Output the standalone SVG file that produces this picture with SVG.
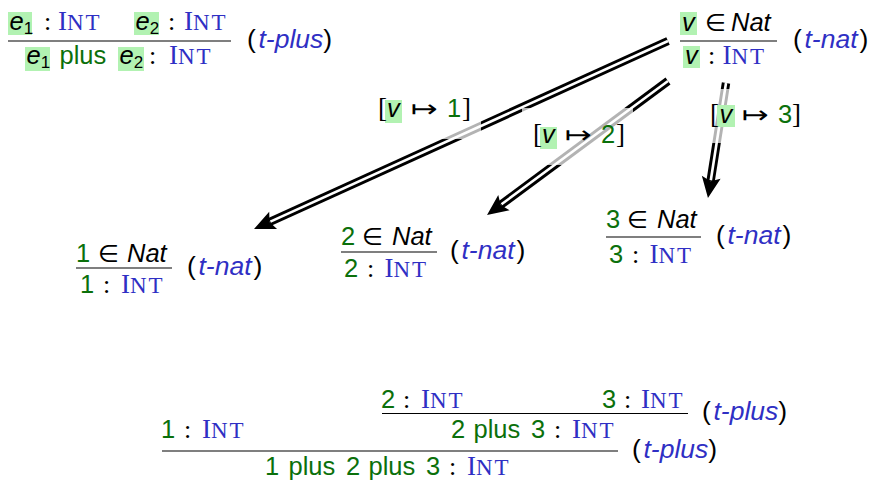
<svg xmlns="http://www.w3.org/2000/svg" width="875" height="481" viewBox="0 0 875 481">
<style>
text { font-family: "Liberation Sans", Arial, sans-serif; font-size: 25.5px; fill: #000; }
.it { font-style: italic; }
.gr { fill: #0b700b; }
.bl { fill: #2f2fc4; }
.lab { font-size: 26.5px; }
.I { font-family: "Liberation Serif", "Times New Roman", serif; font-size: 27px; }
.nt { font-family: "Liberation Serif", "Times New Roman", serif; font-size: 23px; letter-spacing: 2px; }
.col { font-family: "Liberation Serif", "Times New Roman", serif; font-size: 26px; }
.br { font-family: "Liberation Serif", "Times New Roman", serif; font-size: 27px; }
.sub { font-size: 17px; }
.sym { font-family: "DejaVu Sans", sans-serif; font-size: 24px; }
.map { font-family: "DejaVu Sans", sans-serif; font-size: 24px; }
.hl { fill: #b2f2b2; }
.rule { stroke: #000; stroke-width: 1.1; }
.dbl-out { fill: none; stroke: #000; stroke-width: 8.4; marker-end: url(#head); }
.dbl-in { fill: none; stroke: #fff; stroke-width: 2.6; }
.lblbg { fill: #fff; fill-opacity: 0.7; }
</style>
<defs>
<marker id="head" markerUnits="userSpaceOnUse" viewBox="0 -10 22 20" markerWidth="22" markerHeight="20" refX="4" refY="0" orient="auto" overflow="visible">
<path d="M0,-9.5 L21,0 L0,9.5 L4,0 z" fill="#000"/>
</marker>
</defs>

<g id="connectors">
<path class="dbl-out" d="M668,41 L269.5,222"/>
<path class="dbl-in" d="M668,41 L270.4,221.6"/>
<path class="dbl-out" d="M668,81 L500.7,204.9"/>
<path class="dbl-in" d="M668,81 L501.5,204.3"/>
<path class="dbl-out" d="M726,83 L710.6,181.2"/>
<path class="dbl-in" d="M726,83 L710.8,180.2"/>
<g id="label-v1">
<rect class="lblbg" x="367" y="82" width="114" height="57"/>
<rect class="hl" x="385" y="100" width="17" height="23"/>
<text y="117"><tspan class="br" x="378">[</tspan><tspan class="it" x="387">v</tspan><tspan class="gr" x="447">1</tspan><tspan class="br" x="462">]</tspan></text>
<text class="map" x="411" y="117" textLength="27" lengthAdjust="spacingAndGlyphs">↦</text>
</g>
<g id="label-v2">
<rect class="lblbg" x="522" y="108" width="111" height="57"/>
<rect class="hl" x="540" y="127" width="17" height="22"/>
<text y="143"><tspan class="br" x="533">[</tspan><tspan class="it" x="542">v</tspan><tspan class="gr" x="601">2</tspan><tspan class="br" x="616">]</tspan></text>
<text class="map" x="565" y="143" textLength="27" lengthAdjust="spacingAndGlyphs">↦</text>
</g>
<g id="label-v3">
<rect class="lblbg" x="699" y="89" width="111" height="54"/>
<rect class="hl" x="717" y="105" width="18" height="22"/>
<text y="123"><tspan class="br" x="710">[</tspan><tspan class="it" x="719.5">v</tspan><tspan class="gr" x="778">3</tspan><tspan class="br" x="792">]</tspan></text>
<text class="map" x="742" y="123" textLength="27" lengthAdjust="spacingAndGlyphs">↦</text>
</g>
</g>

<g id="rule-t-plus">
<rect class="hl" x="8" y="12" width="24" height="23"/>
<rect class="hl" x="134" y="12" width="25" height="23"/>
<rect class="hl" x="25" y="47" width="25" height="24"/>
<rect class="hl" x="118" y="47" width="26" height="24"/>
<text y="30"><tspan class="it" x="9.5">e</tspan><tspan class="sub" y="34">1</tspan><tspan class="col" x="44" y="30">:</tspan><tspan class="bl"><tspan class="I" x="58">I</tspan><tspan class="nt">NT</tspan></tspan><tspan class="it" x="135.5">e</tspan><tspan class="sub" y="34">2</tspan><tspan class="col" x="168" y="30">:</tspan><tspan class="bl"><tspan class="I" x="184">I</tspan><tspan class="nt">NT</tspan></tspan></text>
<line class="rule" x1="8" y1="41" x2="231" y2="41"/>
<text y="64"><tspan class="it" x="26.5">e</tspan><tspan class="sub" y="68">1</tspan><tspan class="gr" x="59.5" y="64">plus</tspan><tspan class="it" x="119.5">e</tspan><tspan class="sub" y="68">2</tspan><tspan class="col" x="149" y="64">:</tspan><tspan class="bl"><tspan class="I" x="169">I</tspan><tspan class="nt">NT</tspan></tspan></text>
<text class="lab" y="48"><tspan x="247">(</tspan><tspan class="bl it" x="258.5">t-plus</tspan><tspan>)</tspan></text>
</g>

<g id="rule-t-nat">
<rect class="hl" x="680" y="12" width="17" height="23"/>
<rect class="hl" x="683" y="46" width="17" height="22"/>
<text y="31"><tspan class="it" x="682">v</tspan><tspan class="sym" x="705">∈</tspan><tspan class="it" x="731">Nat</tspan></text>
<line class="rule" x1="680" y1="41" x2="777" y2="41"/>
<text y="64"><tspan class="it" x="685">v</tspan><tspan class="col" x="708">:</tspan><tspan class="bl"><tspan class="I" x="722.5">I</tspan><tspan class="nt">NT</tspan></tspan></text>
<text class="lab" y="48"><tspan x="793">(</tspan><tspan class="bl it" x="804.5">t-nat</tspan><tspan dx="2">)</tspan></text>
</g>

<g id="nat-1">
<text y="262"><tspan class="gr" x="76">1</tspan><tspan class="sym" x="98">∈</tspan><tspan class="it" x="127">Nat</tspan></text>
<line class="rule" x1="76" y1="268" x2="172" y2="268"/>
<text y="293"><tspan class="gr" x="80">1</tspan><tspan class="col" x="103">:</tspan><tspan class="bl"><tspan class="I" x="121">I</tspan><tspan class="nt">NT</tspan></tspan></text>
<text class="lab" y="275"><tspan x="187">(</tspan><tspan class="bl it" x="198.5">t-nat</tspan><tspan dx="2">)</tspan></text>
</g>

<g id="nat-2">
<text y="245"><tspan class="gr" x="341">2</tspan><tspan class="sym" x="362">∈</tspan><tspan class="it" x="392">Nat</tspan></text>
<line class="rule" x1="341" y1="252" x2="437" y2="252"/>
<text y="277"><tspan class="gr" x="344">2</tspan><tspan class="col" x="367">:</tspan><tspan class="bl"><tspan class="I" x="384.5">I</tspan><tspan class="nt">NT</tspan></tspan></text>
<text class="lab" y="259"><tspan x="450">(</tspan><tspan class="bl it" x="461.5">t-nat</tspan><tspan dx="2">)</tspan></text>
</g>

<g id="nat-3">
<text y="228"><tspan class="gr" x="606">3</tspan><tspan class="sym" x="627">∈</tspan><tspan class="it" x="657">Nat</tspan></text>
<line class="rule" x1="606" y1="237" x2="701" y2="237"/>
<text y="263"><tspan class="gr" x="609">3</tspan><tspan class="col" x="632">:</tspan><tspan class="bl"><tspan class="I" x="649.5">I</tspan><tspan class="nt">NT</tspan></tspan></text>
<text class="lab" y="244"><tspan x="716">(</tspan><tspan class="bl it" x="727.5">t-nat</tspan><tspan dx="2">)</tspan></text>
</g>

<g id="derivation">
<text y="408"><tspan class="gr" x="381">2</tspan><tspan class="col" x="403">:</tspan><tspan class="bl"><tspan class="I" x="421">I</tspan><tspan class="nt">NT</tspan></tspan><tspan class="gr" x="602">3</tspan><tspan class="col" x="624">:</tspan><tspan class="bl"><tspan class="I" x="641">I</tspan><tspan class="nt">NT</tspan></tspan></text>
<line class="rule" x1="382" y1="413.5" x2="688" y2="413.5"/>
<text class="lab" y="420"><tspan x="702">(</tspan><tspan class="bl it" x="713.5">t-plus</tspan><tspan>)</tspan></text>
<text y="438"><tspan class="gr" x="161">1</tspan><tspan class="col" x="184">:</tspan><tspan class="bl"><tspan class="I" x="202">I</tspan><tspan class="nt">NT</tspan></tspan><tspan class="gr" x="451">2</tspan><tspan class="gr" x="473.5">plus</tspan><tspan class="gr" x="531">3</tspan><tspan class="col" x="554">:</tspan><tspan class="bl"><tspan class="I" x="572">I</tspan><tspan class="nt">NT</tspan></tspan></text>
<line class="rule" x1="162" y1="451" x2="618" y2="451"/>
<text class="lab" y="458"><tspan x="632">(</tspan><tspan class="bl it" x="643.5">t-plus</tspan><tspan>)</tspan></text>
<text y="475"><tspan class="gr" x="265">1</tspan><tspan class="gr" x="288.5">plus</tspan><tspan class="gr" x="346">2</tspan><tspan class="gr" x="368.5">plus</tspan><tspan class="gr" x="426">3</tspan><tspan class="col" x="449">:</tspan><tspan class="bl"><tspan class="I" x="467">I</tspan><tspan class="nt">NT</tspan></tspan></text>
</g>
</svg>
